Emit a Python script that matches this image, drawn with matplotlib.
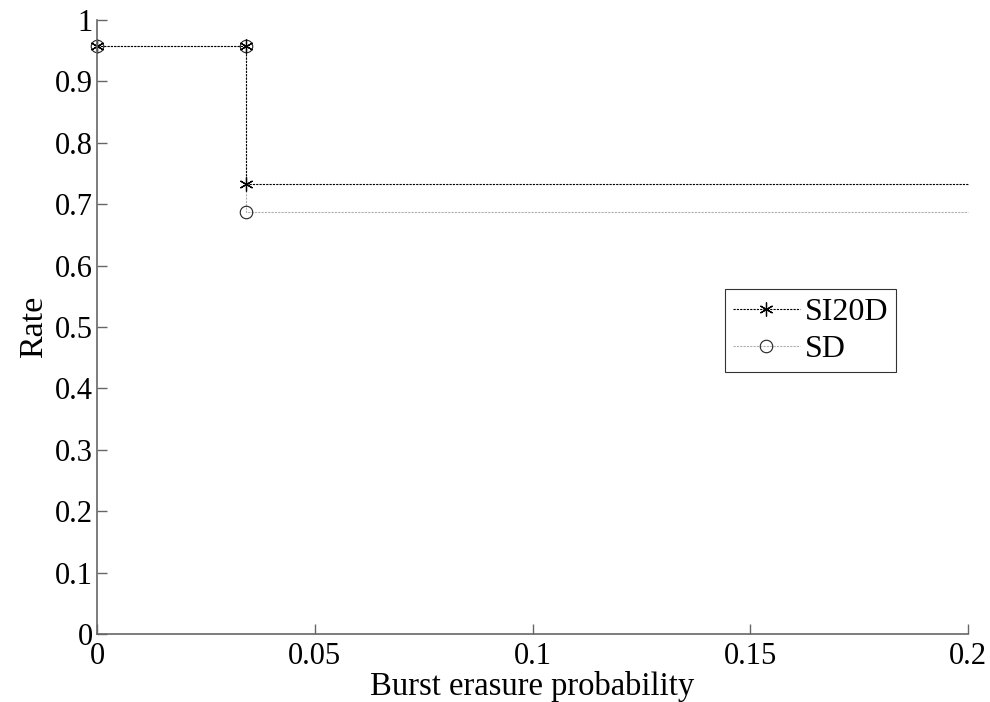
import matplotlib.pyplot as plt

# data
burst_prob = [0.0, 0.0342, 0.0342, 0.2]
rate_si20d = [0.957, 0.957, 0.733, 0.733]
rate_sd = [0.957, 0.957, 0.688, 0.688]
x_ticks = [0, 0.05, 0.1, 0.15, 0.2]
x_tick_labels = ["0", "0.05", "0.1", "0.15", "0.2"]
y_ticks = [0, 0.1, 0.2, 0.3, 0.4, 0.5, 0.6, 0.7, 0.8, 0.9, 1]
y_tick_labels = ["0", "0.1", "0.2", "0.3", "0.4", "0.5", "0.6", "0.7", "0.8", "0.9", "1"]

plt.rcParams['font.family'] = ['Liberation Serif', 'DejaVu Serif']

fig = plt.figure(figsize=(9.9, 7.02), dpi=100)
ax = fig.add_axes([0.098, 0.0969, 0.88, 0.8746])

# SD first so SI20D sits on top
ax.plot(burst_prob, rate_sd, linestyle=(0, (2, 1)), color='#b0b0b0', linewidth=0.8,
        marker='o', markersize=9, markerfacecolor='none', markeredgecolor='#222222',
        markeredgewidth=0.8, markevery=[0, 1, 2], label='SD', clip_on=False)
ax.plot(burst_prob, rate_si20d, linestyle=(0, (2, 1)), color='black', linewidth=0.8,
        marker=(6, 2, 0), markersize=10, markeredgecolor='black',
        markeredgewidth=0.9, markevery=[0, 1, 2], label='SI20D', clip_on=False)

ax.set_xlim(0, 0.2)
ax.set_ylim(0, 1)
ax.set_xticks(x_ticks)
ax.set_xticklabels(x_tick_labels)
ax.set_yticks(y_ticks)
ax.set_yticklabels(y_tick_labels)

for side in ['top', 'right']:
    ax.spines[side].set_visible(False)
for side in ['left', 'bottom']:
    ax.spines[side].set_color('#666666')
    ax.spines[side].set_linewidth(1.2)

ax.tick_params(direction='in', length=7, width=1, color='#666666',
               labelsize=22, pad=3)
ax.tick_params(axis='x', pad=6)
ax.set_xlabel('Burst erasure probability', fontsize=23.5, labelpad=0)
ax.set_ylabel('Rate', fontsize=24.5, labelpad=4)

handles, labels = ax.get_legend_handles_labels()
leg = ax.legend(handles[::-1], labels[::-1], loc='lower left',
                bbox_to_anchor=(0.732, 0.470), bbox_transform=fig.transFigure,
                fontsize=23, frameon=True, fancybox=False, borderpad=0.25,
                handlelength=2.1, handletextpad=0.15, labelspacing=0.25,
                borderaxespad=0)
leg.get_frame().set_edgecolor('black')
leg.get_frame().set_linewidth(0.8)

fig.savefig('out.png', dpi=100)
